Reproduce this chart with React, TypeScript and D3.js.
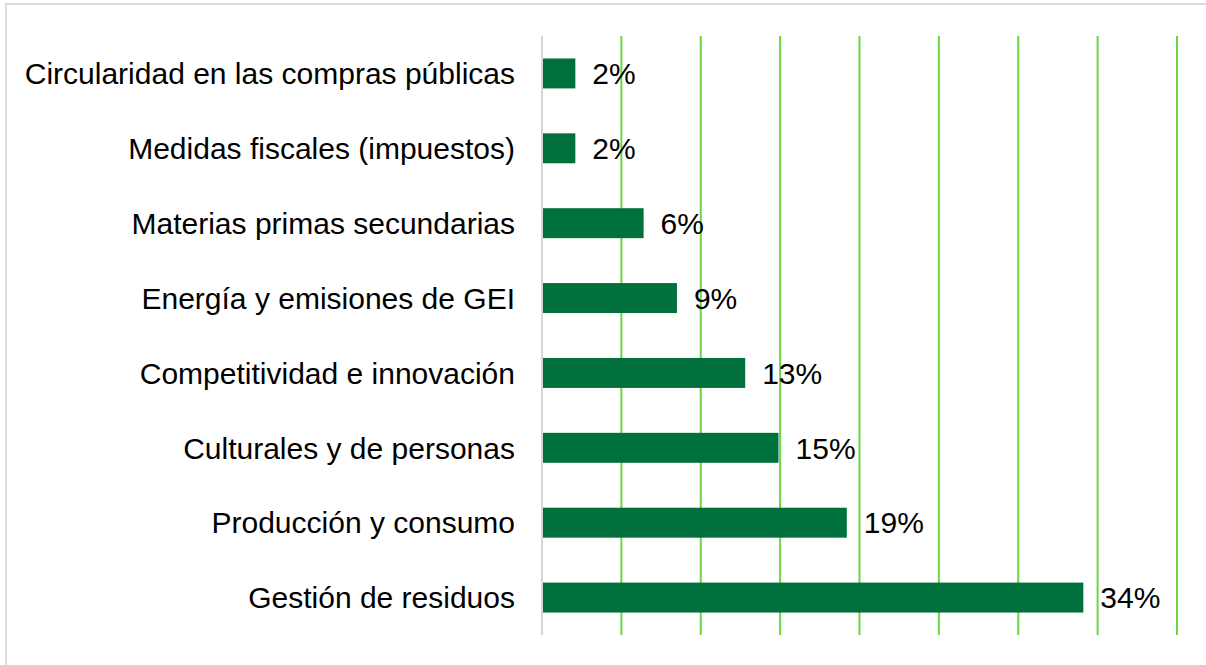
import React from "react";
import * as d3 from "d3";

const categories = [
  "Circularidad en las compras públicas",
  "Medidas fiscales (impuestos)",
  "Materias primas secundarias",
  "Energía y emisiones de GEI",
  "Competitividad e innovación",
  "Culturales y de personas",
  "Producción y consumo",
  "Gestión de residuos",
];
const values = [2.1, 2.1, 6.4, 8.5, 12.8, 14.9, 19.2, 34.1];
const valueLabels = ["2%", "2%", "6%", "9%", "13%", "15%", "19%", "34%"];
const ticks = [0, 5, 10, 15, 20, 25, 30, 35, 40];

const W = 1206;
const H = 665;
const FONT = "'Liberation Sans', Arial, Helvetica, sans-serif";

export default function App() {
  const x = d3.scaleLinear().domain([0, 40]).range([542, 1177]);
  const y = d3.scaleBand<string>().domain(categories).range([36, 635]).paddingInner(0.6).paddingOuter(0.3);
  const yTop = 36;
  const yBot = 635;
  return (
    <svg
      width={W}
      height={H}
      style={{ position: "absolute", left: 0, top: 0, display: "block", background: "#fff" }}
      fontFamily={FONT}
    >
      <rect x={6} y={4} width={1230} height={700} fill="none" stroke="#dcdcdc" strokeWidth={2} />
      {ticks.slice(1).map((t) => (
        <line key={t} x1={x(t)} x2={x(t)} y1={yTop} y2={yBot} stroke="#6dd444" strokeWidth={2} />
      ))}
      {categories.map((c, i) => {
        const yy = y(c)!;
        const bw = y.bandwidth();
        return (
          <g key={c}>
            <rect x={x(0) + 1} y={yy} width={x(values[i]) - x(0) - 1} height={bw} fill="#00703c" />
            <text
              x={x(values[i]) + 17}
              y={yy + bw / 2}
              dy="0.36em"
              fontSize={30}
              fill="#000"
            >
              {valueLabels[i]}
            </text>
            <text x={515} y={yy + bw / 2} dy="0.36em" fontSize={30} textAnchor="end" fill="#000">
              {c}
            </text>
          </g>
        );
      })}
      <line x1={x(0)} x2={x(0)} y1={yTop} y2={yBot} stroke="#d6d6d6" strokeWidth={2} />
    </svg>
  );
}
